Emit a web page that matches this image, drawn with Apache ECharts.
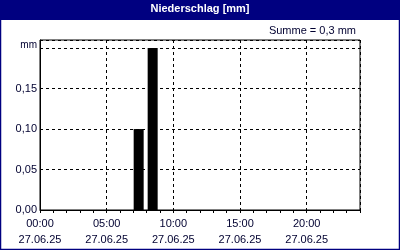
<!DOCTYPE html>
<html><head><meta charset="utf-8">
<script src="https://cdn.jsdelivr.net/npm/echarts@6/dist/echarts.min.js"></script>
<style>html,body{margin:0;padding:0;background:#fff}#c{width:400px;height:250px}</style>
</head><body><div id="c"></div>
<script>
const title = 'Niederschlag [mm]';
const sumText = 'Summe = 0,3 mm';
const dateLabel = '27.06.25';
const hours = [7.4, 8.45];          // bar centres (hour of day)
const rain = [0.10, 0.20];          // mm
const yUnit = 'mm';

const chart = echarts.init(document.getElementById('c'), null, {renderer:'canvas'});
const font = 'Liberation Sans';
const txtCol = '#000030';
chart.setOption({
  animation:false,
  backgroundColor:'#fff',
  graphic:[
    {type:'rect', shape:{x:0.5,y:0.5,width:399,height:249}, style:{fill:'none', stroke:'#000080', lineWidth:1.5}, z:10},
    {type:'rect', shape:{x:0,y:0,width:400,height:20}, style:{fill:'#000080'}, z:10},
    {type:'text', left:'center', top:3, style:{text:title, fill:'#fff', font:'bold 11px "Liberation Sans"'}, z:11},
    {type:'text', right:44, top:25, style:{text:sumText, fill:txtCol, font:'11px "Liberation Sans"'}, z:11}
  ],
  grid:{left:40, right:40, top:40, bottom:40, show:true, borderColor:'#000', borderWidth:1, backgroundColor:'#fff'},
  xAxis:{type:'value', min:0, max:24, interval:5,
    axisLine:{show:true, lineStyle:{color:'#000', width:1}},
    axisTick:{show:true, length:3, lineStyle:{color:'#000'}},
    minorTick:{show:true, splitNumber:5, length:3, lineStyle:{color:'#000'}},
    splitLine:{show:true, lineStyle:{color:'#000', type:[3,3], width:1}},
    axisLabel:{fontFamily:font, fontSize:11, color:txtCol, margin:6, lineHeight:16, showMaxLabel:false,
      formatter:v => (v%5===0 ? String(v).padStart(2,'0')+':00\n'+dateLabel : '')}
  },
  yAxis:{type:'value', min:0, max:0.21, interval:0.05,
    axisLine:{show:true, lineStyle:{color:'#000'}},
    axisTick:{show:false},
    splitLine:{show:true, lineStyle:{color:'#000', type:[3,3], width:1}},
    axisLabel:{fontFamily:font, fontSize:11, color:txtCol, margin:3,
      formatter:v => {
        const r = Math.round(v/0.05);
        if (Math.abs(v/0.05 - r) > 1e-6) return '';
        if (r === 4) return '{u|'+yUnit+'}';
        return v.toFixed(2).replace('.',',');
      },
      rich:{u:{fontFamily:font, fontSize:10, color:txtCol, padding:[0,0,6,0]}}
    }
  },
  series:[{type:'bar', data:hours.map((h,i)=>[h, rain[i]]), barWidth:10, itemStyle:{color:'#000'}}]
});
</script></body></html>
